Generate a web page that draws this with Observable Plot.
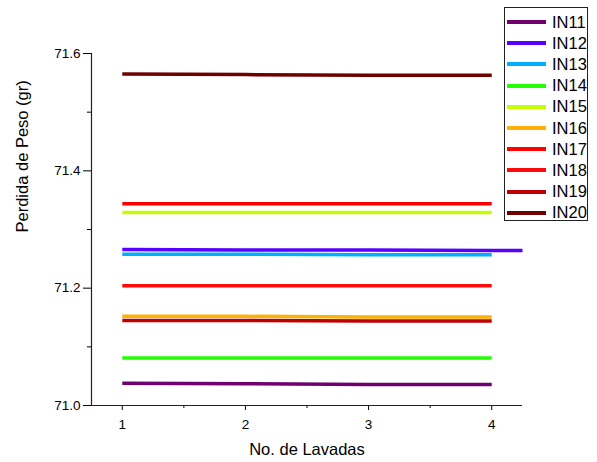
<!DOCTYPE html>
<html>
<head>
<meta charset="utf-8">
<script src="https://cdn.jsdelivr.net/npm/d3@7"></script>
<script src="https://cdn.jsdelivr.net/npm/@observablehq/plot@0.6"></script>
<style>
  body { margin: 0; background: #fff; }
  #wrap { position: relative; width: 597px; height: 462px; font-family: "Liberation Sans", Arial, sans-serif; }
  #legend { position: absolute; left: 504px; top: 7px; width: 84px; height: 214px; border: 1px solid #222; background: #fff; box-sizing: border-box; }
  .row { position: absolute; left: 2px; height: 20px; display: flex; align-items: center; }
  .sw { width: 39px; height: 4px; margin-right: 6px; }
  .lb { font-size: 16.5px; color: #000; }
</style>
</head>
<body>
<div id="wrap"></div>
<script>
// Number of washes on the x axis
const lavadas = [1, 2, 3, 4];
const series = ["IN11", "IN12", "IN13", "IN14", "IN15", "IN16", "IN17", "IN18", "IN19", "IN20"];
const colors = ["#700070", "#5800ff", "#00b0ff", "#22ff00", "#c4ff00", "#ffb000", "#ff0000", "#ff0a0a", "#c00000", "#6e0000"];

// Weight (gr) per series after each wash
const IN11 = [71.038, 71.037, 71.036, 71.036];
const IN12 = [71.266, 71.265, 71.265, 71.264, 71.264];
const IN12x = [1, 2, 3, 4, 4.25];
const IN13 = [71.258, 71.258, 71.257, 71.257];
const IN14 = [71.081, 71.081, 71.081, 71.081];
const IN15 = [71.329, 71.329, 71.329, 71.329];
const IN16 = [71.152, 71.152, 71.151, 71.151];
const IN17 = [71.344, 71.344, 71.344, 71.344];
const IN18 = [71.204, 71.204, 71.204, 71.204];
const IN19 = [71.145, 71.145, 71.144, 71.144];
const IN20 = [71.565, 71.564, 71.563, 71.563];

const yMajor = [71.0, 71.2, 71.4, 71.6];
const yMinor = [71.1, 71.3, 71.5];
const xMinor = [1.5, 2.5, 3.5];
const xDomain = [0.75, 4.25];
const yDomain = [71.0, 71.6];

const valueSets = {IN11, IN12, IN13, IN14, IN15, IN16, IN17, IN18, IN19, IN20};
const rows = [];
for (const s of series) {
  const xs = s === "IN12" ? IN12x : lavadas;
  valueSets[s].forEach((v, i) => rows.push({serie: s, lavada: xs[i], peso: v}));
}

const chart = Plot.plot({
  width: 597,
  height: 462,
  marginLeft: 91,
  marginRight: 75,
  marginTop: 53,
  marginBottom: 57,
  style: {fontFamily: "'Liberation Sans', Arial, sans-serif", background: "#fff", color: "#000"},
  x: {domain: xDomain},
  y: {domain: yDomain},
  color: {domain: series, range: colors},
  marks: [
    Plot.axisY({ticks: yMajor, tickSize: 8, tickPadding: 3, fontSize: 13.5, tickFormat: d => d.toFixed(1), label: null}),
    Plot.axisY({ticks: yMinor, tickSize: 4, tickFormat: () => "", label: null}),
    Plot.axisX({ticks: lavadas, tickSize: 5, tickPadding: 9, fontSize: 13.5, tickFormat: d => d, label: null}),
    Plot.axisX({ticks: xMinor, tickSize: 3, tickFormat: () => "", label: null}),
    Plot.ruleX([xDomain[0]], {y1: yDomain[0], y2: yDomain[1], stroke: "#222", strokeWidth: 1.2}),
    Plot.ruleY([yDomain[0]], {x1: xDomain[0], x2: xDomain[1], stroke: "#222", strokeWidth: 1.2}),
    Plot.line(rows, {x: "lavada", y: "peso", z: "serie", stroke: "serie", strokeWidth: 3.5, strokeLinecap: "butt"}),
    Plot.text(["Perdida de Peso (gr)"], {frameAnchor: "left", dx: -69, dy: 3, rotate: -90, fontSize: 16.5, fill: "#000"}),
    Plot.text(["No. de Lavadas"], {frameAnchor: "bottom", dy: 49, fontSize: 16.5, fill: "#000"})
  ]
});

const wrap = document.getElementById("wrap");
wrap.appendChild(chart);

const legend = document.createElement("div");
legend.id = "legend";
series.forEach((s, i) => {
  const r = document.createElement("div");
  r.className = "row";
  r.style.top = (4 + i * 21.2) + "px";
  const sw = document.createElement("div");
  sw.className = "sw";
  sw.style.background = colors[i];
  const lb = document.createElement("span");
  lb.className = "lb";
  lb.textContent = s;
  r.appendChild(sw);
  r.appendChild(lb);
  legend.appendChild(r);
});
wrap.appendChild(legend);
</script>
</body>
</html>
